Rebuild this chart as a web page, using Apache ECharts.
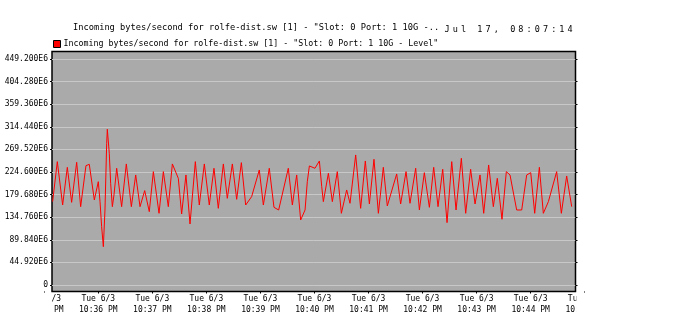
<!DOCTYPE html>
<html>
<head>
<meta charset="utf-8">
<script src="https://cdn.jsdelivr.net/npm/echarts@6/dist/echarts.min.js"></script>
<style>
html,body{margin:0;padding:0;background:#fff;}
#c{width:686px;height:333px;}
</style>
</head>
<body>
<div id="c"></div>
<script>
// seconds after Tue 6/3 10:35:00 PM
var sampleSec = [9.3,14.5,20.4,25.6,30.4,36.0,40.4,46.3,50.0,55.6,60.0,61.9,63.7,65.6,67.4,69.3,70.0,72.2,73.7,75.6,77.4,80.4,85.9,91.1,96.7,101.5,106.3,111.5,116.6,121.1,127.4,132.2,137.7,142.2,148.8,152.5,157.3,161.8,167.7,172.1,177.7,183.2,188.4,193.2,198.8,203.2,208.8,213.6,218.8,223.6,230.2,238.7,243.2,249.8,255.0,260.2,270.9,275.4,280.2,284.6,
289.5,292.0,294.3,300.5,305.4,308.0,309.8,315.4,319.8,325.3,329.8,335.7,339.4,345.7,351.2,356.4,360.9,366.0,370.9,376.4,380.8,391.2,395.6,401.6,406.0,412.3,416.4,421.9,427.5,432.3,437.1,442.3,447.1,452.3,457.1,463.0,467.8,473.3,478.2,483.7,487.8,493.3,498.5,502.9,508.1,512.9,517.0,524.4,530.0,535.5,540.0,544.4,549.6,554.0,559.6,568.8,574.0,579.9,585.5];
// incoming bytes/second, in units of 1E6
var bytesIn = [165.7,245.2,159.0,233.9,164.3,243.9,155.7,237.2,239.9,169.0,205.4,165.7,116.0,76.2,149.1,281.6,309.5,261.8,202.1,155.7,178.9,232.0,155.7,240.6,155.7,218.7,155.7,187.6,145.8,225.3,142.5,225.3,155.7,240.6,212.1,141.2,218.7,121.3,245.2,159.0,240.6,159.0,232.0,152.4,240.6,172.3,240.6,170.3,243.2,159.0,175.6,228.6,159.0,232.0,154.4,149.1,232.0,159.0,218.7,129.2,
149.1,205.4,236.6,232.0,246.5,195.5,165.7,222.0,165.7,225.3,142.5,188.9,162.4,258.5,152.4,246.5,161.0,249.8,142.5,233.9,157.1,220.7,161.0,225.3,162.4,232.0,149.1,223.3,154.4,233.9,155.7,230.0,124.0,245.2,149.1,251.8,142.5,230.0,161.0,218.7,142.5,238.6,155.7,212.1,130.6,225.3,218.7,149.1,149.1,218.7,223.3,142.5,233.9,142.5,165.7,225.3,142.5,216.7,155.7];
var yMax = 449.2, yStep = 44.92;
var xViewMin = 8.6, xViewMax = 589.7;   // visible time window (s)
var xLabelMin = 0, xLabelMax = 600, xStep = 60;
var seriesName = 'Incoming bytes/second for rolfe-dist.sw [1] - "Slot: 0 Port: 1 10G - Level"';
var titleText = 'Incoming bytes/second for rolfe-dist.sw [1] - "Slot: 0 Port: 1 10G -..';
var stampText = 'Jul 17, 08:07:14';

var data = sampleSec.map(function(s,i){return [s, bytesIn[i]];});
var FONT = 'DejaVu Sans Mono';
function timeLabel(s){
  var m = 35 + Math.round(s/60);
  return 'Tue 6/3\n10:' + (m<10?'0':'') + m + ' PM';
}
var stampRich = stampText.split('').map(function(ch){return '{c|' + ch + '}';}).join('');
var chart = echarts.init(document.getElementById('c'), null, {renderer:'canvas'});
chart.setOption({
  animation:false,
  backgroundColor:'#ffffff',
  textStyle:{fontFamily:FONT},
  title:[
    {text:titleText, left:73, top:23, padding:0, textStyle:{fontFamily:FONT,fontSize:8.7,fontWeight:'normal',color:'#000'}},
    {text:stampRich, left:443, top:25, padding:0, textStyle:{fontFamily:FONT,fontSize:8.5,fontWeight:'normal',color:'#000',
      rich:{c:{fontFamily:FONT,fontSize:8.5,width:8.2,align:'center',color:'#000'}}}}
  ],
  legend:{
    left:53, top:40, padding:0, icon:'rect', itemWidth:7, itemHeight:7, itemGap:4,
    textStyle:{fontFamily:FONT,fontSize:8.3,color:'#000',padding:[0,0,0,-2]},
    data:[{name:seriesName, itemStyle:{color:'#ff0000',borderColor:'#000',borderWidth:1}}]
  },
  grid:[
    {show:true, left:52, top:51.5, width:523.5, height:240, backgroundColor:'#aaaaaa', borderColor:'#000', borderWidth:1.5, z:0},
    {show:false, left:52, top:59, width:523.5, height:226},
    {show:false, left:44.25, top:59, width:540.45, height:232.5}
  ],
  xAxis:[
    {gridIndex:0, type:'value', min:0, max:1, show:false},
    {gridIndex:1, type:'value', min:xViewMin, max:xViewMax, show:false},
    {gridIndex:2, type:'value', min:xLabelMin, max:xLabelMax, interval:xStep,
     axisLine:{show:false}, splitLine:{show:false},
     axisTick:{show:true, length:2, lineStyle:{color:'#000'}},
     axisLabel:{margin:2, fontFamily:FONT, fontSize:8, lineHeight:11, color:'#000', formatter:timeLabel, showMinLabel:true, showMaxLabel:true}}
  ],
  yAxis:[
    {gridIndex:0, type:'value', min:0, max:1, show:false},
    {gridIndex:1, type:'value', min:0, max:yMax, interval:yStep,
     axisLine:{show:false},
     axisTick:{show:true, length:2, lineStyle:{color:'#000'}},
     splitLine:{show:true, lineStyle:{color:'#c8c8c8', width:1}},
     axisLabel:{margin:4, fontFamily:FONT, fontSize:8, color:'#000',
       formatter:function(v){return v===0?'0':v.toFixed(3)+'E6';}}},
    {gridIndex:1, type:'value', position:'right', min:0, max:yMax, interval:yStep,
     axisLine:{show:false}, splitLine:{show:false}, axisLabel:{show:false},
     axisTick:{show:true, length:2, lineStyle:{color:'#000'}}},
    {gridIndex:2, type:'value', min:0, max:1, show:false}
  ],
  series:[{
    name:seriesName, type:'line', xAxisIndex:1, yAxisIndex:1, data:data,
    showSymbol:false, symbol:'none', clip:true,
    lineStyle:{color:'#ff0000', width:1}, itemStyle:{color:'#ff0000'}, z:5
  }],
  graphic:[
    {type:'rect', left:0, top:292.5, shape:{width:51.3, height:30}, style:{fill:'#fff'}, z:100},
    {type:'rect', left:576.3, top:292.5, shape:{width:110, height:30}, style:{fill:'#fff'}, z:100}
  ]
});
</script>
</body>
</html>
